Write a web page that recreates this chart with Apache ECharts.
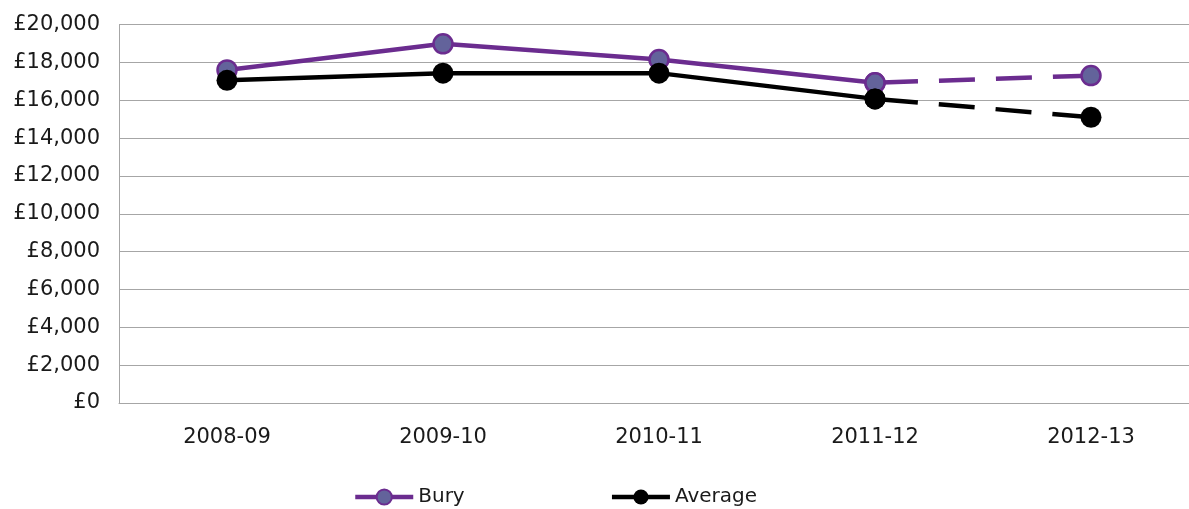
<!DOCTYPE html>
<html>
<head>
<meta charset="utf-8">
<script src="https://cdn.jsdelivr.net/npm/echarts@6/dist/echarts.min.js"></script>
<style>
html,body{margin:0;padding:0;background:#fff;overflow:hidden;width:1189px;height:509px;}
#chart{width:1199px;height:509px;}
</style>
</head>
<body>
<div id="chart"></div>
<script>
const categories = ['2008-09', '2009-10', '2010-11', '2011-12', '2012-13'];
const buryValues = [17600, 18980, 18150, 16920, 17300];
const averageValues = [17050, 17430, 17430, 16070, 15100];
const yTicks = { min: 0, max: 20000, interval: 2000 };

const solidPart = arr => arr.map((v, i) => (i <= 3 ? v : null));
const dashedPart = arr => arr.map((v, i) => (i >= 3 ? v : null));

const FONT = 'DejaVu Sans';
const purple = '#6B2C8F';
const buryFill = '#63639B';

const buryStyle = {
  symbol: 'circle', symbolSize: 19,
  itemStyle: { color: buryFill, borderColor: purple, borderWidth: 2.5 },
};
const avgStyle = {
  symbol: 'circle', symbolSize: 21,
  itemStyle: { color: '#000', borderColor: '#000', borderWidth: 0 },
};

const chart = echarts.init(document.getElementById('chart'));
chart.setOption({
  animation: false,
  backgroundColor: '#fff',
  grid: { left: 119, top: 24.5, right: 0, bottom: 106 },
  legend: {
    data: ['Bury', 'Average'],
    left: 348, top: 482,
    itemWidth: 58, itemHeight: 19, itemGap: 145,
    lineStyle: { width: 4.5 },
    textStyle: { fontFamily: FONT, fontSize: 20, color: '#1a1a1a' },
  },
  xAxis: {
    type: 'category', data: categories, boundaryGap: true,
    axisLine: { lineStyle: { color: '#a6a6a6', width: 1 } },
    axisTick: { show: false },
    axisLabel: { fontFamily: FONT, fontSize: 21, color: '#1a1a1a', margin: 24 },
  },
  yAxis: {
    type: 'value', min: yTicks.min, max: yTicks.max, interval: yTicks.interval,
    axisLine: { show: true, lineStyle: { color: '#a6a6a6', width: 1 } },
    axisTick: { show: false },
    splitLine: { lineStyle: { color: '#a6a6a6', width: 1 } },
    axisLabel: {
      fontFamily: FONT, fontSize: 21, color: '#1a1a1a', margin: 19,
      formatter: v => '£' + v.toLocaleString('en-GB'),
    },
  },
  series: [
    Object.assign({
      name: 'Bury', type: 'line', data: solidPart(buryValues),
      lineStyle: { color: purple, width: 4.5 }, z: 2,
    }, buryStyle),
    Object.assign({
      name: 'Bury', type: 'line', data: dashedPart(buryValues),
      lineStyle: { color: purple, width: 4.5, type: [36, 21], dashOffset: 50 }, z: 2,
    }, buryStyle),
    Object.assign({
      name: 'Average', type: 'line', data: solidPart(averageValues),
      lineStyle: { color: '#000', width: 4.5 }, z: 3,
    }, avgStyle),
    Object.assign({
      name: 'Average', type: 'line', data: dashedPart(averageValues),
      lineStyle: { color: '#000', width: 4.5, type: [36, 21], dashOffset: 50 }, z: 3,
    }, avgStyle),
  ],
});
</script>
</body>
</html>
